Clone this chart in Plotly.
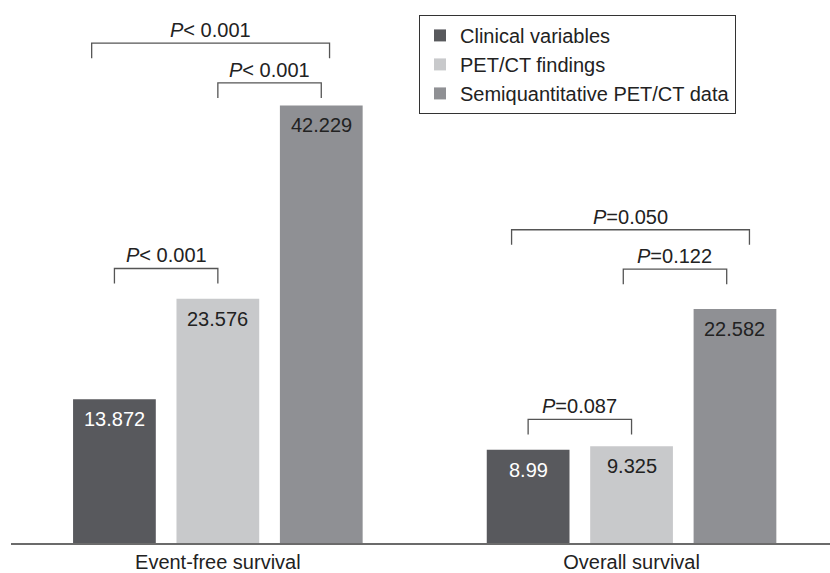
import plotly.graph_objects as go

# ---- data ----
groups = ["Event-free survival", "Overall survival"]
series_names = ["Clinical variables", "PET/CT findings", "Semiquantitative PET/CT data"]
clinical = [13.872, 8.99]
pet_ct = [23.576, 9.325]
semiquant = [42.229, 22.582]
series_values = [clinical, pet_ct, semiquant]
value_labels = [["13.872", "8.99"], ["23.576", "9.325"], ["42.229", "22.582"]]

# comparisons: (group index, left series, right series, p-value text)
comparisons = [
    (0, 0, 2, "<i>P</i>&lt; 0.001"),
    (0, 1, 2, "<i>P</i>&lt; 0.001"),
    (0, 0, 1, "<i>P</i>&lt; 0.001"),
    (1, 0, 1, "<i>P</i>=0.087"),
    (1, 0, 2, "<i>P</i>=0.050"),
    (1, 1, 2, "<i>P</i>=0.122"),
]

# ---- style ----
colors = ["#58595d", "#c8c9cb", "#8f9094"]
label_colors = ["#ffffff", "#222222", "#222222"]
FONT = "Liberation Sans, Arial, sans-serif"
FS = 20
slot = 0.25
bar_w = 0.2
# bracket levels (data units) and end extensions (x data units)
bracket_levels = [48.24, 44.4, 26.49, 11.93, 30.23, 26.42]
bracket_ext = [(-0.055, 0.02), (0, 0), (0, 0), (0, 0), (-0.04, 0.035), (-0.02, -0.02)]
tick_len = 1.45

fig = go.Figure()
for i, (name, vals) in enumerate(zip(series_names, series_values)):
    xs = [g + (i - 1) * slot for g in range(len(groups))]
    fig.add_trace(go.Bar(
        x=xs, y=vals, name=name, width=bar_w,
        marker=dict(color=colors[i], line=dict(width=0)),
        legendgroup=f"g{i}", hoverinfo="name+y",
    ))
    for x, v, lab in zip(xs, vals, value_labels[i]):
        fig.add_annotation(
            x=x, y=v, xref="x", yref="y", text=lab,
            showarrow=False, yanchor="top", yshift=-7,
            font=dict(family=FONT, size=FS, color=label_colors[i]),
        )

shapes = []
for (g, a, b, txt), lvl, (el, er) in zip(comparisons, bracket_levels, bracket_ext):
    x0 = g + (a - 1) * slot + el
    x1 = g + (b - 1) * slot + er
    shapes.append(dict(
        type="path", xref="x", yref="y",
        path=f"M {x0},{lvl - tick_len} L {x0},{lvl} L {x1},{lvl} L {x1},{lvl - tick_len}",
        line=dict(color="#555555", width=1.3),
    ))
    fig.add_annotation(
        x=(x0 + x1) / 2, y=lvl, xref="x", yref="y", text=txt,
        showarrow=False, yanchor="bottom", yshift=0,
        font=dict(family=FONT, size=FS, color="#222222"),
    )

fig.update_layout(
    width=830, height=573,
    margin=dict(l=11, r=0, t=0, b=27),
    plot_bgcolor="white", paper_bgcolor="white",
    barmode="overlay",
    shapes=shapes,
    showlegend=True,
    legend=dict(
        x=(419 - 11) / 819, y=(546 - 15) / 546, xanchor="left", yanchor="top",
        bordercolor="#333333", borderwidth=1, bgcolor="white",
        font=dict(family=FONT, size=FS, color="#222222"),
        tracegroupgap=0,
    ),
    xaxis=dict(
        range=[-0.5, -0.5 + 819 / 413.7],
        tickvals=list(range(len(groups))), ticktext=groups,
        showgrid=False, zeroline=False, showline=True,
        linecolor="#6b6b6b", linewidth=1.5, ticks="",
        tickfont=dict(family=FONT, size=FS, color="#222222"),
        fixedrange=True,
    ),
    yaxis=dict(
        range=[0, 546 / 10.42], visible=False, showgrid=False, zeroline=False,
        fixedrange=True,
    ),
    font=dict(family=FONT),
)

fig.write_html(
    "out.html",
    config={"displayModeBar": False},
    post_script="document.body.style.margin='0';document.body.style.overflow='hidden';",
)
